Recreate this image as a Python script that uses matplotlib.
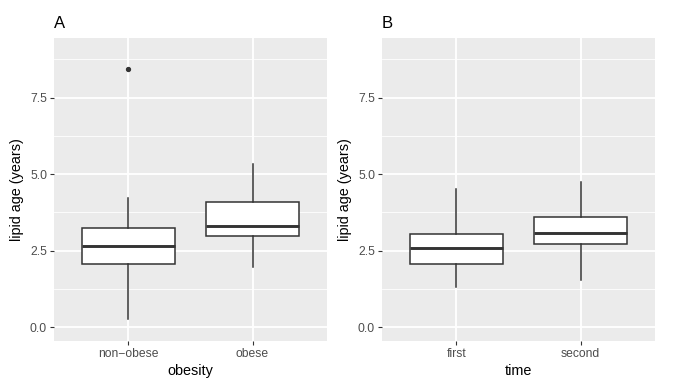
import matplotlib.pyplot as plt
from matplotlib.ticker import MultipleLocator

plt.rcParams['font.family'] = ['Liberation Sans', 'DejaVu Sans']

# box stats: (whislo, q1, med, q3, whishi, outliers)
obesity_groups = ['non\u2212obese', 'obese']
obesity_stats = [
    (0.26, 2.06, 2.64, 3.25, 4.22, [8.43]),
    (1.98, 2.99, 3.32, 4.09, 5.34, []),
]
time_groups = ['first', 'second']
time_stats = [
    (1.30, 2.07, 2.59, 3.06, 4.53, []),
    (1.54, 2.71, 3.07, 3.59, 4.74, []),
]

panels = [
    ('A', 'obesity', obesity_groups, obesity_stats, 54),
    ('B', 'time', time_groups, time_stats, 382),
]

W, H = 685, 390
fig = plt.figure(figsize=(W / 100, H / 100), dpi=100)

for tag, xlab, groups, stats, left in panels:
    ax = fig.add_axes([left / W, (H - 341) / H, 273 / W, 303 / H])
    ax.set_facecolor('#EBEBEB')
    for s in ax.spines.values():
        s.set_visible(False)

    bxp_stats = []
    for lo, q1, med, q3, hi, fl in stats:
        bxp_stats.append(dict(whislo=lo, q1=q1, med=med, q3=q3, whishi=hi, fliers=fl))
    ax.bxp(bxp_stats, positions=[1, 2], widths=0.75, patch_artist=True,
           showcaps=False,
           boxprops=dict(facecolor='white', edgecolor='#333333', linewidth=1.1),
           medianprops=dict(color='#333333', linewidth=2.1, solid_capstyle='butt'),
           whiskerprops=dict(color='#333333', linewidth=1.1),
           flierprops=dict(marker='o', markersize=2.8, markerfacecolor='#333333',
                           markeredgecolor='#333333'),
           zorder=3)

    ax.set_xlim(0.4, 2.6)
    ax.set_ylim(-0.45, 9.45)
    ax.yaxis.set_minor_locator(MultipleLocator(1.25))
    ax.set_yticks([0, 2.5, 5.0, 7.5])
    ax.set_yticklabels(['0.0', '2.5', '5.0', '7.5'])
    ax.set_xticks([1, 2])
    ax.set_xticklabels(groups)

    ax.grid(which='major', color='white', linewidth=1.3)
    ax.grid(which='minor', axis='y', color='white', linewidth=0.6)
    ax.set_axisbelow(True)
    ax.tick_params(which='major', length=3, width=0.8, color='#333333',
                   labelcolor='#4D4D4D', labelsize=8.7, pad=2)
    ax.tick_params(which='minor', length=0)

    ax.set_xlabel(xlab, fontsize=10.4, labelpad=3)
    ax.set_ylabel('lipid age (years)', fontsize=10.4, labelpad=4)
    ax.set_title(tag, loc='left', fontsize=12, pad=7)

fig.savefig('out.png', dpi=100)
